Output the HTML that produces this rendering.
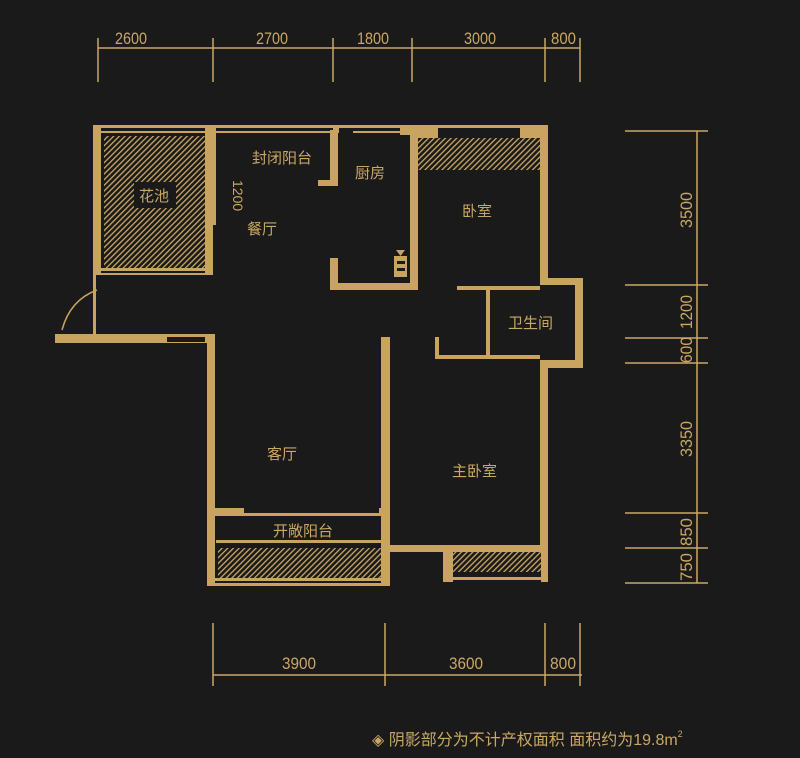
<!DOCTYPE html>
<html><head><meta charset="utf-8">
<style>
html,body{margin:0;padding:0;background:#1b1a1a;}
svg{display:block}
text{font-family:"Liberation Sans","Noto Sans CJK SC",sans-serif;fill:#c9a865;}
</style></head>
<body>
<svg width="800" height="758" viewBox="0 0 800 758" xmlns="http://www.w3.org/2000/svg">
<defs>
<pattern id="h" width="4" height="4" patternUnits="userSpaceOnUse" patternTransform="rotate(45)">
<rect width="4" height="4" fill="#1b1a1a"/><rect width="1.3" height="4" fill="#c9a865"/>
</pattern>
</defs>
<rect width="800" height="758" fill="#1b1a1a"/>
<g stroke="#c9a865" stroke-width="1.5" fill="none">
<line x1="98" y1="48" x2="580" y2="48"/>
<line x1="98" y1="38" x2="98" y2="82"/><line x1="213" y1="38" x2="213" y2="82"/>
<line x1="333" y1="38" x2="333" y2="82"/><line x1="412" y1="38" x2="412" y2="82"/>
<line x1="545" y1="38" x2="545" y2="82"/><line x1="580" y1="38" x2="580" y2="82"/>
<line x1="697" y1="131" x2="697" y2="583"/>
<line x1="625" y1="131" x2="708" y2="131"/><line x1="625" y1="285" x2="708" y2="285"/>
<line x1="625" y1="338" x2="708" y2="338"/><line x1="625" y1="363" x2="708" y2="363"/>
<line x1="625" y1="513" x2="708" y2="513"/><line x1="625" y1="548" x2="708" y2="548"/>
<line x1="625" y1="583" x2="708" y2="583"/>
<line x1="213" y1="675" x2="582" y2="675"/>
<line x1="213" y1="623" x2="213" y2="686"/><line x1="385" y1="623" x2="385" y2="686"/>
<line x1="545" y1="623" x2="545" y2="686"/><line x1="580" y1="623" x2="580" y2="686"/>
</g>
<g font-size="17">
<text x="115" y="44" textLength="32" lengthAdjust="spacingAndGlyphs">2600</text>
<text x="256" y="44" textLength="32" lengthAdjust="spacingAndGlyphs">2700</text>
<text x="357" y="44" textLength="32" lengthAdjust="spacingAndGlyphs">1800</text>
<text x="464" y="44" textLength="32" lengthAdjust="spacingAndGlyphs">3000</text>
<text x="551" y="44" textLength="25" lengthAdjust="spacingAndGlyphs">800</text>
<text x="282" y="669" textLength="34" lengthAdjust="spacingAndGlyphs">3900</text>
<text x="449" y="669" textLength="34" lengthAdjust="spacingAndGlyphs">3600</text>
<text x="550" y="669" textLength="26" lengthAdjust="spacingAndGlyphs">800</text>
<text transform="translate(692,228) rotate(-90)" textLength="36" lengthAdjust="spacingAndGlyphs">3500</text>
<text transform="translate(692,329) rotate(-90)" textLength="34" lengthAdjust="spacingAndGlyphs">1200</text>
<text transform="translate(692,363) rotate(-90)" textLength="26" lengthAdjust="spacingAndGlyphs">600</text>
<text transform="translate(692,457) rotate(-90)" textLength="36" lengthAdjust="spacingAndGlyphs">3350</text>
<text transform="translate(692,546) rotate(-90)" textLength="28" lengthAdjust="spacingAndGlyphs">850</text>
<text transform="translate(692,581) rotate(-90)" textLength="28" lengthAdjust="spacingAndGlyphs">750</text>
</g>
<rect x="104" y="136" width="103" height="132" fill="url(#h)"/>
<rect x="418" y="138" width="122" height="32" fill="url(#h)"/>
<rect x="218" y="548" width="163" height="30" fill="url(#h)"/>
<rect x="453" y="548" width="88" height="24" fill="url(#h)"/>
<g fill="#c8a460">
<rect x="93" y="125" width="455" height="3"/>
<rect x="93" y="131" width="240" height="2"/>
<rect x="93" y="125" width="8" height="150"/>
<rect x="205" y="125" width="11" height="100"/>
<rect x="205" y="225" width="8" height="50"/>
<rect x="101" y="268" width="112" height="3"/>
<rect x="101" y="273" width="112" height="2"/>
<rect x="333" y="125" width="6" height="8"/>
<rect x="353" y="125" width="65" height="3"/><rect x="353" y="131" width="65" height="2"/>
<rect x="400" y="125" width="18" height="10"/>
<rect x="330" y="130" width="8" height="55"/>
<rect x="318" y="180" width="20" height="6"/>
<rect x="410" y="125" width="8" height="165"/>
<rect x="330" y="258" width="8" height="32"/>
<rect x="330" y="283" width="88" height="7"/>
<rect x="394" y="256" width="13" height="21"/>
<rect x="418" y="125" width="20" height="13"/>
<rect x="520" y="125" width="28" height="13"/>
<rect x="540" y="125" width="8" height="160"/>
<rect x="540" y="278" width="43" height="7"/>
<rect x="575" y="278" width="8" height="90"/>
<rect x="540" y="360" width="43" height="8"/>
<rect x="457" y="286" width="83" height="4"/>
<rect x="486" y="290" width="4" height="68"/>
<rect x="435" y="355" width="105" height="4"/>
<rect x="435" y="337" width="4" height="22"/>
<rect x="55" y="334" width="160" height="9"/>
<rect x="93" y="273" width="3" height="62"/>
<rect x="207" y="334" width="8" height="252"/>
<rect x="381" y="337" width="9" height="248"/>
<rect x="540" y="360" width="8" height="192"/>
<rect x="390" y="545" width="158" height="7"/>
<rect x="443" y="552" width="10" height="30"/>
<rect x="443" y="577" width="105" height="3"/>
<rect x="541" y="548" width="7" height="34"/>
<rect x="207" y="508" width="183" height="8"/>
<rect x="207" y="578" width="183" height="3"/>
<rect x="207" y="583" width="183" height="3"/>
<rect x="216" y="540" width="170" height="3"/>
<path d="M396 250 L405 250 L400.5 256 Z"/>
</g>
<rect x="167" y="337" width="38" height="5" fill="#1b1a1a"/>
<rect x="244" y="508" width="135" height="5" fill="#1b1a1a"/>
<rect x="397" y="261" width="8" height="3" fill="#1b1a1a"/><rect x="397" y="268" width="8" height="3" fill="#1b1a1a"/>
<path d="M62 330 Q70 300 97 290" stroke="#c8a460" stroke-width="1.5" fill="none"/>
<rect x="134" y="182" width="42" height="26" fill="#1b1a1a"/>
<g font-size="15">
<text x="139" y="201">花池</text>
<text x="252" y="163">封闭阳台</text>
<text x="355" y="178">厨房</text>
<text x="247" y="234">餐厅</text>
<text x="462" y="216">卧室</text>
<text x="508" y="328">卫生间</text>
<text x="267" y="459">客厅</text>
<text x="452" y="476">主卧室</text>
<text x="273" y="536">开敞阳台</text>
<text transform="translate(233,180) rotate(90)" font-size="14">1200</text>
</g>
<text x="372" y="745" font-size="16">◈ 阴影部分为不计产权面积  面积约为19.8m<tspan font-size="9" dy="-8">2</tspan></text>
</svg>
</body></html>
